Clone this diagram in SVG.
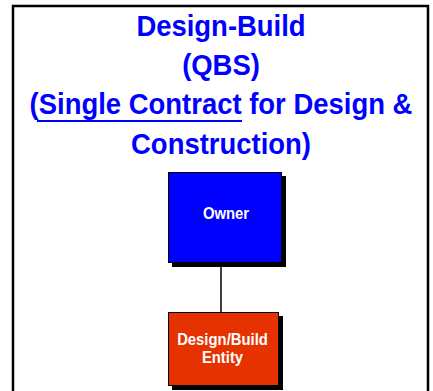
<svg xmlns="http://www.w3.org/2000/svg" width="433" height="391" viewBox="0 0 433 391">
  <style>
    .title { font-family: "Liberation Sans", Arial, sans-serif; font-weight: bold; font-size: 30px; fill: #0000FF; text-anchor: middle; }
    .label { font-family: "Liberation Sans", Arial, sans-serif; font-weight: bold; font-size: 16.5px; fill: #FFFFFF; text-anchor: middle; }
    .shadow { fill: #000000; }
    .box { stroke: #000000; stroke-width: 1; }
    .link { stroke: #000000; stroke-width: 1.5; fill: none; }
  </style>

  <rect x="0" y="0" width="433" height="391" fill="#FFFFFF"/>

  <!-- outer frame -->
  <rect x="13" y="6" width="415" height="400" fill="none" stroke="#000000" stroke-width="2.5"/>

  <!-- heading, slightly condensed -->
  <g id="heading">
    <g transform="translate(221 0) scale(0.915 1)">
      <text class="title" x="0" y="36.5">Design-Build</text>
      <text class="title" x="0" y="75">(QBS)</text>
      <text class="title" x="0" y="114.5">(Single Contract for Design &amp;</text>
      <text class="title" x="0" y="154">Construction)</text>
    </g>
    <line x1="37" y1="121" x2="242" y2="121" stroke="#0000FF" stroke-width="2"/>
  </g>

  <!-- connectors -->
  <g id="connectors">
    <line class="link" x1="221" y1="263" x2="221" y2="312"/>
  </g>

  <g id="owner">
    <rect class="shadow" x="172" y="176" width="114" height="91"/>
    <rect class="box" x="168.5" y="172.5" width="113" height="90" fill="#0000FF"/>
    <text class="label" transform="translate(226 219) scale(0.9 1)">Owner</text>
  </g>

  <g id="design-build-entity">
    <rect class="shadow" x="172" y="316" width="111" height="74"/>
    <rect class="box" x="168.5" y="312.5" width="110" height="73" fill="#E63200"/>
    <text class="label" transform="translate(222.5 345) scale(0.9 1)">Design/Build</text>
    <text class="label" transform="translate(222.5 363) scale(0.9 1)">Entity</text>
  </g>
</svg>
